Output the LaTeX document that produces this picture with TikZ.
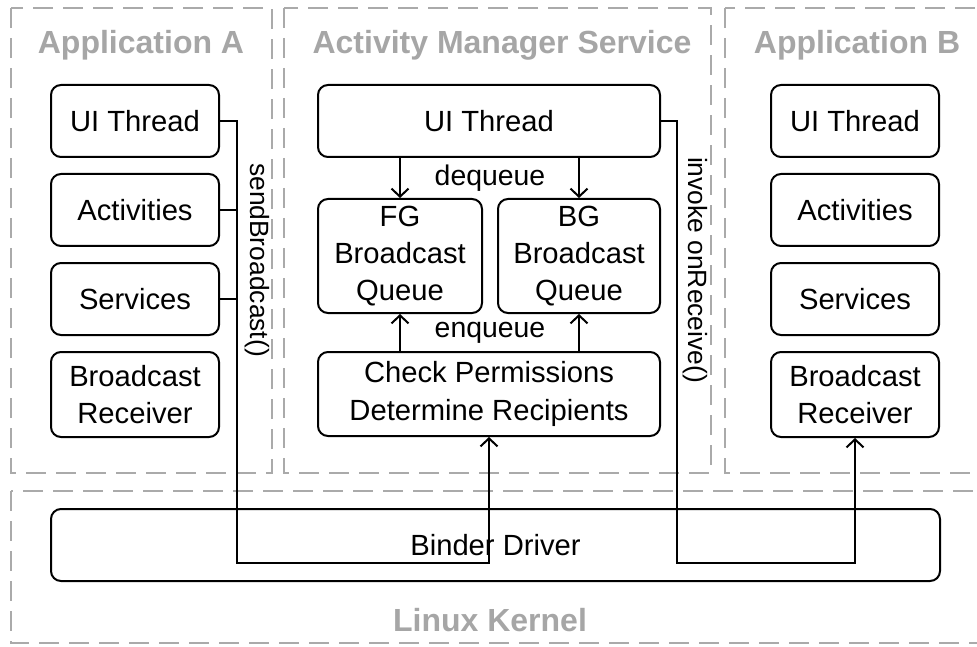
\documentclass[tikz,border=0pt]{standalone}
\usepackage{fontspec}
\setmainfont{Liberation Sans}
\usetikzlibrary{arrows.meta}
\definecolor{framegray}{HTML}{AAAAAA}
\definecolor{titlegray}{HTML}{A6A6A6}
\tikzset{
  frame/.style={draw=framegray, line width=1pt, dash pattern=on 10pt off 5pt},
  grouptitle/.style={text=titlegray, font=\fontsize{16}{19}\selectfont\bfseries, inner sep=0pt},
  box/.style={draw, line width=1pt, rounded corners=5pt, align=center, inner sep=0pt,
    font=\fontsize{14.6}{18.6}\selectfont},
  smallbox/.style={box, minimum width=84pt, minimum height=36pt},
  tallbox/.style={box, minimum width=84pt, minimum height=42.5pt},
  link/.style={line width=1pt},
  arr/.style={link, -{Straight Barb[length=4pt, width=8.5pt, line width=1pt]}},
  lbl/.style={font=\fontsize{14.2}{17}\selectfont, inner sep=0pt},
  vlbl/.style={font=\fontsize{13.2}{16}\selectfont, inner sep=0pt, rotate=-90},
}
\begin{document}
\begin{tikzpicture}[x=0.5pt, y=-0.5pt]
\useasboundingbox (0,0) rectangle (977,646);
\clip (0,0) rectangle (977,646);

% dashed group frames
\draw[frame] (11,8) rectangle (272,473);
\draw[frame] (284,8) rectangle (711,473);
\draw[frame] (725,8) rectangle (1000,473);
\draw[frame] (11,491) rectangle (1000,643);

\node[grouptitle] (tA) at (141,45) {Application A};
\node[grouptitle] (tM) at (502,45) {Activity Manager Service};
\node[grouptitle] (tB) at (857,45) {Application B};
\node[grouptitle] (tK) at (490,620) {Linux Kernel};

% Application A
\node[smallbox] (aui)  at (135,121)   {UI Thread};
\node[smallbox] (aact) at (135,210)   {Activities};
\node[smallbox] (asrv) at (135,299)   {Services};
\node[tallbox]  (abr)  at (135,394.5) {Broadcast\\Receiver};

% Application B
\node[smallbox] (bui)  at (855,121)   {UI Thread};
\node[smallbox] (bact) at (855,210)   {Activities};
\node[smallbox] (bsrv) at (855,299)   {Services};
\node[tallbox]  (bbr)  at (855,394.5) {Broadcast\\Receiver};

% Activity Manager Service
\node[box, minimum width=171pt, minimum height=36pt] (mui) at (489,121) {UI Thread};
\node[box, minimum width=82pt, minimum height=57pt] (fg) at (400,256) {FG\\Broadcast\\Queue};
\node[box, minimum width=81pt, minimum height=57pt] (bg) at (579,256) {BG\\Broadcast\\Queue};
\node[box, minimum width=171pt, minimum height=42pt] (chk) at (489,394) {Check Permissions\\Determine Recipients};

% Linux kernel
\node[box, minimum width=444.5pt, minimum height=36pt] (binder) at (495.5,545) {Binder Driver};

% queue traffic inside the service
\draw[arr] (mui.south -| fg) -- (fg.north);
\draw[arr] (mui.south -| bg) -- (bg.north);
\draw[arr] (chk.north -| fg) -- (fg.south);
\draw[arr] (chk.north -| bg) -- (bg.south);
\node[lbl] (deq) at (490,178) {dequeue};
\node[lbl] (enq) at (490,333) {enqueue};

% sendBroadcast() path through the binder
\coordinate (sx) at (237,563);
\draw[link] (aact.east) -- (aact.east -| sx);
\draw[link] (asrv.east) -- (asrv.east -| sx);
\draw[arr] (aui.east) -| (sx) -| (chk.south);
\node[vlbl] (send) at (257,260) {sendBroadcast()};

% onReceive() path through the binder
\coordinate (rx) at (677,563);
\draw[arr] (mui.east) -| (rx) -| (bbr.south);
\node[vlbl] (recv) at (695,270) {invoke onReceive()};
\end{tikzpicture}
\end{document}
